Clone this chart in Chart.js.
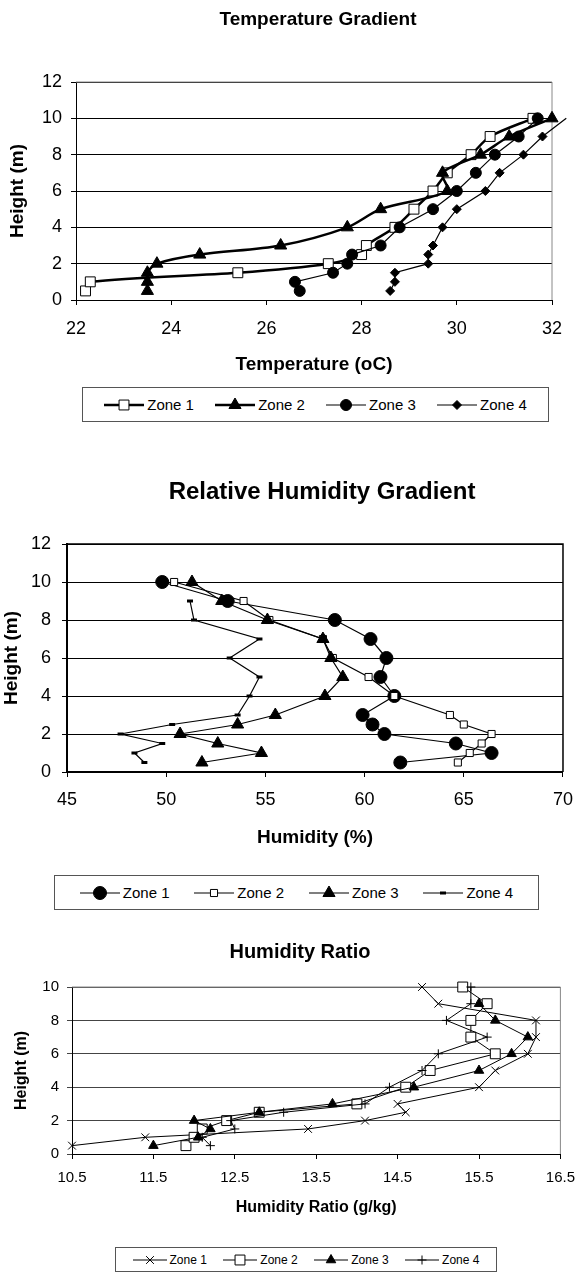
<!DOCTYPE html>
<html>
<head>
<meta charset="utf-8">
<script src="https://cdn.jsdelivr.net/npm/chart.js@4.4.1/dist/chart.umd.min.js"></script>
<style>
  html, body { margin: 0; padding: 0; background: #fff; }
  body { width: 585px; height: 1273px; position: relative; overflow: hidden; font-family: "Liberation Sans", Arial, sans-serif; }
  .panel { position: absolute; left: 0; width: 585px; }
  .legend { position: absolute; box-sizing: border-box; border: 1px solid #555; background: #fff;
            display: flex; align-items: center; justify-content: space-evenly; color: #000; }
  .legend .item { display: inline-flex; align-items: center; white-space: nowrap; }
  .legend canvas { margin-right: 3px; }
</style>
</head>
<body>
<div class="panel" style="top:0;height:430px"><canvas id="tempChart"></canvas></div>
<div class="panel" style="top:430px;height:480px"><canvas id="rhChart"></canvas></div>
<div class="panel" style="top:912px;height:361px"><canvas id="ratioChart"></canvas></div>
<div class="legend" id="tempLegend" style="left:82px;top:387px;width:467px;height:35px;font-size:15px"></div>
<div class="legend" id="rhLegend" style="left:54px;top:875px;width:485px;height:35px;font-size:15px"></div>
<div class="legend" id="ratioLegend" style="left:115px;top:1247px;width:382px;height:25px;font-size:12px"></div>
<script>
const heights = [0.5, 1, 1.5, 2, 2.5, 3, 4, 5, 6, 7, 8, 9, 10];
const zoneNames = ['Zone 1', 'Zone 2', 'Zone 3', 'Zone 4'];

// Temperature gradient (oC)
const tempTicksX = [22, 24, 26, 28, 30, 32];
const tempTicksY = [0, 2, 4, 6, 8, 10, 12];
const tempZone1 = [22.2, 22.3, 25.4, 27.3, 28.0, 28.1, 28.7, 29.1, 29.5, 29.8, 30.3, 30.7, 31.6];
const tempZone2 = [23.5, 23.5, 23.5, 23.7, 24.6, 26.3, 27.7, 28.4, 29.8, 29.7, 30.5, 31.1, 32.0];
const tempZone3 = [26.7, 26.6, 27.4, 27.7, 27.8, 28.4, 28.8, 29.5, 30.0, 30.4, 30.8, 31.3, 31.7];
const tempZone4 = [28.6, 28.7, 28.7, 29.4, 29.4, 29.5, 29.7, 30.0, 30.6, 30.9, 31.4, 31.8, 32.3];

// Relative humidity (%)
const rhTicksX = [45, 50, 55, 60, 65, 70];
const rhTicksY = [0, 2, 4, 6, 8, 10, 12];
const rhZone1 = [61.8, 66.4, 64.6, 61.0, 60.4, 59.9, 61.5, 60.8, 61.1, 60.3, 58.5, 53.1, 49.8];
const rhZone2 = [64.7, 65.3, 65.9, 66.4, 65.0, 64.3, 61.5, 60.2, 58.4, 57.9, 55.2, 53.9, 50.4];
const rhZone3 = [51.8, 54.8, 52.6, 50.7, 53.6, 55.5, 58.0, 58.9, 58.3, 57.9, 55.1, 52.8, 51.3];
const rhZone4 = [48.9, 48.4, 49.8, 47.7, 50.3, 53.6, 54.2, 54.7, 53.2, 54.7, 51.4, 51.2];

// Humidity ratio (g/kg)
const ratioTicksX = [10.5, 11.5, 12.5, 13.5, 14.5, 15.5, 16.5];
const ratioTicksY = [0, 2, 4, 6, 8, 10];
const ratioZone1 = [10.5, 11.4, 13.4, 14.1, 14.6, 14.5, 15.5, 15.7, 16.1, 16.2, 16.2, 15.0, 14.8];
const ratioZone2 = [11.9, 12.0, 12.1, 12.4, 12.8, 14.0, 14.6, 14.9, 15.7, 15.4, 15.4, 15.6, 15.3];
const ratioZone3 = [11.5, 12.05, 12.2, 12.0, 12.8, 13.7, 14.7, 15.5, 15.9, 16.1, 15.7, 15.5];
const ratioZone4 = [12.2, 12.1, 12.5, 12.45, 13.1, 14.1, 14.4, 14.8, 15.0, 15.6, 15.1, 15.4, 15.4];

const FONT = '"Liberation Sans", Arial, sans-serif';

function toPoints(values) {
  return values.map((v, i) => ({ x: v, y: heights[i] }));
}

// one dataset per zone, later zones drawn on top like the spreadsheet does
function zone(i, values, look) {
  return {
    label: zoneNames[i],
    data: toPoints(values),
    showLine: true,
    order: 4 - i,
    borderColor: '#000',
    borderWidth: look.line,
    tension: look.tension || 0,
    pointStyle: look.style,
    pointRadius: look.r,
    pointHoverRadius: look.r,
    pointBackgroundColor: look.fill || '#000',
    pointBorderColor: '#000',
    pointBorderWidth: look.pw || 1,
    clip: false,
  };
}

const heading = {
  id: 'heading',
  afterDraw(chart, args, opts) {
    const { ctx } = chart;
    ctx.save();
    ctx.font = `bold ${opts.size}px ${FONT}`;
    ctx.fillStyle = '#000';
    ctx.textAlign = 'center';
    ctx.textBaseline = 'middle';
    ctx.fillText(opts.text, opts.x, opts.y);
    ctx.restore();
  },
};

const plotFrame = {
  id: 'plotFrame',
  beforeDatasetsDraw(chart, args, opts) {
    const { left, top, right, bottom } = chart.chartArea;
    const { ctx } = chart;
    ctx.save();
    ctx.strokeStyle = opts.color;
    ctx.lineWidth = opts.width;
    ctx.beginPath();
    ctx.moveTo(left, top);
    ctx.lineTo(right, top);
    ctx.lineTo(right, bottom);
    ctx.stroke();
    ctx.restore();
  },
};

function buildChart(id, p) {
  return new Chart(document.getElementById(id), {
    type: 'scatter',
    data: { datasets: p.datasets },
    options: {
      responsive: true,
      maintainAspectRatio: false,
      animation: false,
      devicePixelRatio: 1,
      events: [],
      layout: {
        padding: {
          top: p.plot.top,
          right: 585 - p.plot.right,
          bottom: p.height - p.plot.bottom - p.xHeight,
          left: 0,
        },
      },
      plugins: {
        legend: { display: false },
        tooltip: { enabled: false },
        heading: p.heading,
        plotFrame: p.frame,
      },
      scales: {
        x: {
          type: 'linear',
          min: p.ticksX[0],
          max: p.ticksX[p.ticksX.length - 1],
          afterFit: (s) => { s.height = p.xHeight; },
          afterBuildTicks: (s) => { s.ticks = p.ticksX.map((v) => ({ value: v })); },
          grid: { drawOnChartArea: false, drawTicks: true, tickLength: 5, color: '#000' },
          border: { display: true, color: '#000', width: p.axisWidth },
          ticks: { autoSkip: false, maxRotation: 0, padding: p.xTickPad, color: '#000', font: { family: FONT, size: p.tickSize } },
          title: { display: true, text: p.xTitle, color: '#000', padding: { top: 0, bottom: 0 }, font: { family: FONT, size: p.titleSize, weight: 'bold' } },
        },
        y: {
          type: 'linear',
          min: p.ticksY[0],
          max: p.ticksY[p.ticksY.length - 1],
          afterFit: (s) => { s.width = p.plot.left; },
          afterBuildTicks: (s) => { s.ticks = p.ticksY.map((v) => ({ value: v })); },
          grid: { drawTicks: true, tickLength: 5, color: p.gridColor, lineWidth: 1 },
          border: { display: true, color: '#000', width: p.axisWidth },
          ticks: { autoSkip: false, padding: p.yTickPad, color: '#000', font: { family: FONT, size: p.tickSize } },
          title: { display: true, text: 'Height (m)', color: '#000', padding: { top: p.yTitlePad, bottom: 0 }, font: { family: FONT, size: p.titleSize, weight: 'bold' } },
        },
      },
    },
    plugins: [heading, plotFrame],
  });
}

function buildLegend(id, datasets, sampleWidth) {
  const box = document.getElementById(id);
  datasets.forEach((ds) => {
    const item = document.createElement('span');
    item.className = 'item';
    const c = document.createElement('canvas');
    c.width = sampleWidth;
    c.height = 18;
    const ctx = c.getContext('2d');
    ctx.strokeStyle = '#000';
    ctx.lineWidth = ds.borderWidth;
    ctx.beginPath();
    ctx.moveTo(0, 9);
    ctx.lineTo(sampleWidth, 9);
    ctx.stroke();
    ctx.fillStyle = ds.pointBackgroundColor;
    ctx.lineWidth = ds.pointBorderWidth;
    Chart.helpers.drawPoint(ctx, { pointStyle: ds.pointStyle, radius: ds.pointRadius, rotation: 0, borderWidth: ds.pointBorderWidth }, sampleWidth / 2, 9);
    item.appendChild(c);
    item.appendChild(document.createTextNode(ds.label));
    box.appendChild(item);
  });
}

const tempSets = [
  zone(0, tempZone1, { line: 2.5, tension: 0.3, style: 'rect', r: 7, fill: '#fff' }),
  zone(1, tempZone2, { line: 2.5, tension: 0.3, style: 'triangle', r: 7 }),
  zone(2, tempZone3, { line: 1.2, style: 'circle', r: 5.5 }),
  zone(3, tempZone4, { line: 1.2, style: 'rectRot', r: 4.5 }),
];

const rhSets = [
  zone(0, rhZone1, { line: 1.2, style: 'circle', r: 6.5 }),
  zone(1, rhZone2, { line: 1.2, style: 'rect', r: 5, fill: '#fff' }),
  zone(2, rhZone3, { line: 1.2, style: 'triangle', r: 7 }),
  zone(3, rhZone4, { line: 1.2, style: 'line', r: 3, pw: 3 }),
];

const ratioSets = [
  zone(0, ratioZone1, { line: 1, style: 'crossRot', r: 5.5 }),
  zone(1, ratioZone2, { line: 1, style: 'rect', r: 7, fill: '#fff' }),
  zone(2, ratioZone3, { line: 1, style: 'triangle', r: 5.5 }),
  zone(3, ratioZone4, { line: 1, style: 'cross', r: 4.5 }),
];

buildChart('tempChart', {
  datasets: tempSets,
  height: 430,
  plot: { left: 76, right: 552, top: 82, bottom: 300 },
  xHeight: 76,
  ticksX: tempTicksX,
  ticksY: tempTicksY,
  xTitle: 'Temperature (oC)',
  tickSize: 18,
  titleSize: 19,
  xTickPad: 13,
  yTickPad: 9,
  yTitlePad: 6,
  axisWidth: 1,
  gridColor: '#000',
  heading: { text: 'Temperature Gradient', size: 19, x: 318, y: 20 },
  frame: { color: '#888', width: 1 },
});

buildChart('rhChart', {
  datasets: rhSets,
  height: 480,
  plot: { left: 67, right: 570, top: 114, bottom: 342 },
  xHeight: 77,
  ticksX: rhTicksX,
  ticksY: rhTicksY,
  xTitle: 'Humidity (%)',
  tickSize: 18,
  titleSize: 19,
  xTickPad: 12,
  yTickPad: 11,
  yTitlePad: 0,
  axisWidth: 2,
  gridColor: '#000',
  heading: { text: 'Relative Humidity Gradient', size: 24, x: 322, y: 62 },
  frame: { color: '#000', width: 1.5 },
});

buildChart('ratioChart', {
  datasets: ratioSets,
  height: 361,
  plot: { left: 72, right: 563, top: 75, bottom: 242 },
  xHeight: 63,
  ticksX: ratioTicksX,
  ticksY: ratioTicksY,
  xTitle: 'Humidity Ratio (g/kg)',
  tickSize: 15,
  titleSize: 16,
  xTickPad: 10,
  yTickPad: 8,
  yTitlePad: 12,
  axisWidth: 1,
  gridColor: '#444',
  heading: { text: 'Humidity Ratio', size: 20, x: 300, y: 40 },
  frame: { color: '#888', width: 1 },
});

buildLegend('tempLegend', tempSets, 40);
buildLegend('rhLegend', rhSets, 40);
buildLegend('ratioLegend', ratioSets, 34);
</script>
</body>
</html>
